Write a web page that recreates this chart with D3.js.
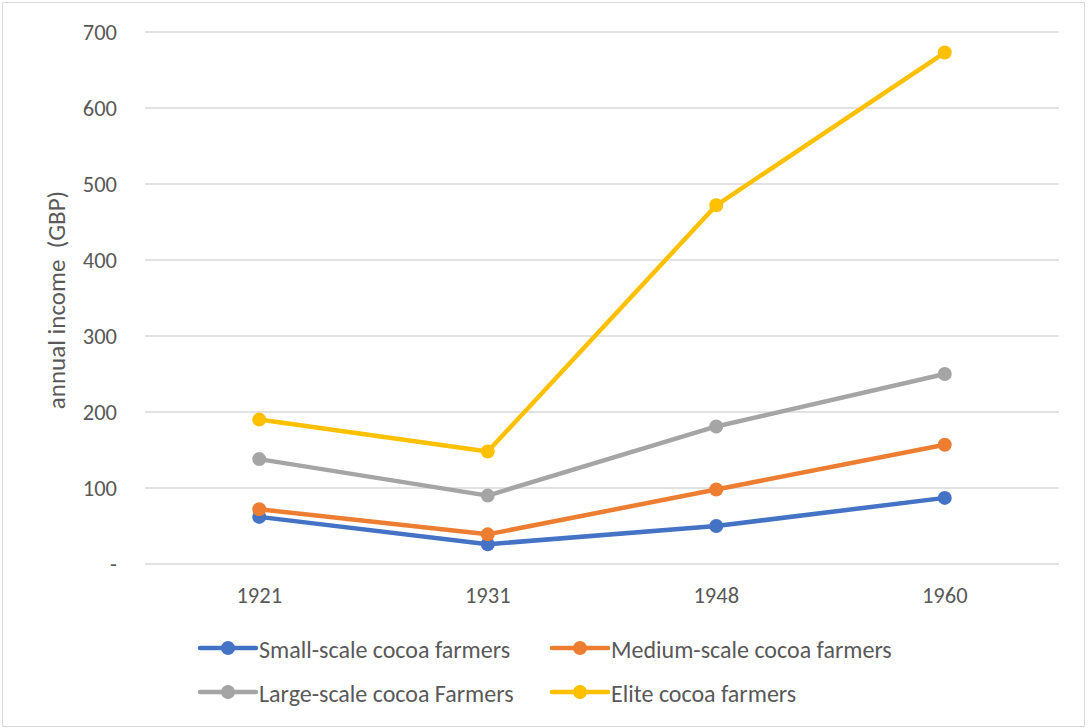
<!DOCTYPE html>
<html>
<head>
<meta charset="utf-8">
<script src="https://cdn.jsdelivr.net/npm/d3@7"></script>
<style>
  body { margin: 0; background: #fff; }
  text { font-family: Carlito, "Open Sans", "Noto Sans", sans-serif; fill: #595959; }
</style>
</head>
<body>
<div id="chart"></div>
<script>
// data
const years = ["1921", "1931", "1948", "1960"];
const seriesNames = ["Small-scale cocoa farmers", "Medium-scale cocoa farmers", "Large-scale cocoa Farmers", "Elite cocoa farmers"];
const smallScale = [62, 26, 50, 87];
const mediumScale = [72, 39, 98, 157];
const largeScale = [138, 90, 181, 250];
const eliteFarmers = [190, 148, 472, 673];
const yTicks = [0, 100, 200, 300, 400, 500, 600, 700];
const colors = ["#4472c4", "#ed7d31", "#a5a5a5", "#ffc000"];

const allSeries = [smallScale, mediumScale, largeScale, eliteFarmers];

const W = 1089, H = 728;
const margin = {top: 32, right: 30, bottom: 164, left: 145};
const width = 1059 - margin.left;
const height = 564 - margin.top;

const svg = d3.select("#chart").append("svg")
    .attr("width", W)
    .attr("height", H);

// outer chart border
svg.append("rect")
    .attr("x", 2.5).attr("y", 2.5)
    .attr("width", 1082).attr("height", 724)
    .attr("fill", "none")
    .attr("stroke", "#d9d9d9");

const g = svg.append("g")
    .attr("transform", "translate(" + margin.left + "," + margin.top + ")");

const x = d3.scaleBand().domain(years).range([0, width]);
const y = d3.scaleLinear().domain([0, 700]).range([height, 0]);

// gridlines
g.selectAll(".grid")
    .data(yTicks)
    .join("line")
    .attr("class", "grid")
    .attr("x1", 0).attr("x2", width)
    .attr("y1", d => y(d)).attr("y2", d => y(d))
    .attr("stroke", "#d9d9d9")
    .attr("stroke-width", 1.3);

// y axis labels
const yAxis = g.append("g")
    .call(d3.axisLeft(y).tickValues(yTicks).tickSize(0).tickPadding(28)
        .tickFormat(d => d === 0 ? "-" : d));
yAxis.select(".domain").remove();
yAxis.selectAll("text")
    .style("font-size", "22.5px")
    .attr("fill", "#595959")
    .style("font-family", "Carlito, 'Open Sans', 'Noto Sans', sans-serif");

// x axis labels
const xAxis = g.append("g")
    .attr("transform", "translate(0," + height + ")")
    .call(d3.axisBottom(x).tickSize(0).tickPadding(23));
xAxis.select(".domain").remove();
xAxis.selectAll("text")
    .style("font-size", "22.5px")
    .attr("fill", "#595959")
    .style("font-family", "Carlito, 'Open Sans', 'Noto Sans', sans-serif");

// y axis title
svg.append("text")
    .attr("transform", "translate(56,300) rotate(-90)")
    .attr("text-anchor", "middle")
    .attr("dominant-baseline", "central")
    .style("font-size", "25px")
    .text("annual income\u00a0\u00a0(GBP)");

const line = d3.line()
    .x((d, i) => x(years[i]) + x.bandwidth() / 2)
    .y(d => y(d));

allSeries.forEach((vals, s) => {
    g.append("path")
        .datum(vals)
        .attr("d", line)
        .attr("fill", "none")
        .attr("stroke", colors[s])
        .attr("stroke-width", 4.5)
        .attr("stroke-linejoin", "round");
    g.selectAll(".dot" + s)
        .data(vals)
        .join("circle")
        .attr("cx", (d, i) => x(years[i]) + x.bandwidth() / 2)
        .attr("cy", d => y(d))
        .attr("r", 7)
        .attr("fill", colors[s]);
});

// legend
const legendPos = [[200, 648], [552, 648], [200, 692], [552, 692]];
const legend = svg.append("g");
seriesNames.forEach((name, i) => {
    const [lx, ly] = legendPos[i];
    legend.append("line")
        .attr("x1", lx).attr("x2", lx + 56)
        .attr("y1", ly).attr("y2", ly)
        .attr("stroke", colors[i])
        .attr("stroke-width", 4.5)
        .attr("stroke-linecap", "round");
    legend.append("circle")
        .attr("cx", lx + 28).attr("cy", ly)
        .attr("r", 7)
        .attr("fill", colors[i]);
    legend.append("text")
        .attr("x", lx + 59).attr("y", ly + 1)
        .attr("dominant-baseline", "central")
        .style("font-size", "24px")
        .text(name);
});
</script>
</body>
</html>
